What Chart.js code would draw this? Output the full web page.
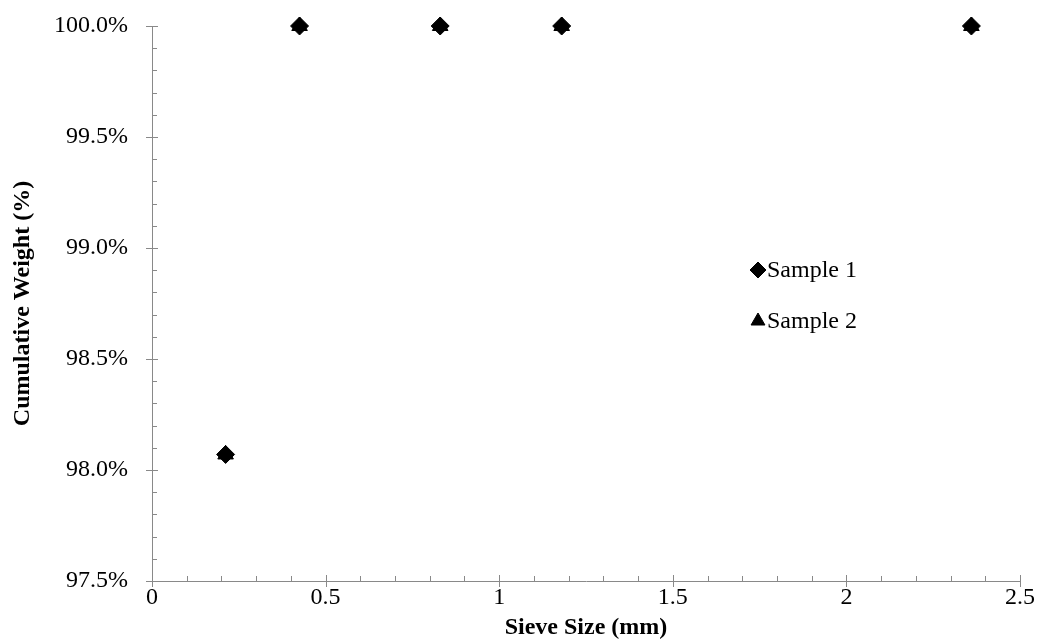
<!DOCTYPE html>
<html>
<head>
<meta charset="utf-8">
<script src="https://cdn.jsdelivr.net/npm/chart.js@4"></script>
<style>
  html, body { margin: 0; padding: 0; background: #fff; }
  #wrap { width: 1042px; height: 642px; position: relative; }
</style>
</head>
<body>
<div id="wrap"><canvas id="sieveChart" width="1042" height="642"></canvas></div>
<script>
// sieve sizes (mm) and cumulative weight passing (%)
const sieveSizes = [0.212, 0.425, 0.83, 1.18, 2.36];
const sample1 = [98.07, 100, 100, 100, 100];
const sample2 = [98.07, 100, 100, 100, 100];
const seriesNames = ['Sample 1', 'Sample 2'];

const axisColor = '#898989';
const font = 'Liberation Serif';

function toPoints(xs, ys) {
    return xs.map((x, i) => ({ x: x, y: ys[i] }));
}

// Excel-style ticks: majors cross the axis, minors point inward
const tickPlugin = {
    id: 'excelTicks',
    afterDraw(chart) {
        const ctx = chart.ctx;
        const xs = chart.scales.x, ys = chart.scales.y;
        const area = chart.chartArea;
        ctx.save();
        ctx.strokeStyle = axisColor;
        ctx.lineWidth = 1;
        ctx.beginPath();
        for (let i = 0; i <= 25; i++) {
            const px = Math.round(xs.getPixelForValue(i / 10)) + 0.5;
            if (i % 5 === 0) {
                ctx.moveTo(px, area.bottom - 6);
                ctx.lineTo(px, area.bottom + 6);
            } else {
                ctx.moveTo(px, area.bottom - 5);
                ctx.lineTo(px, area.bottom);
            }
        }
        for (let i = 0; i <= 25; i++) {
            const py = Math.round(ys.getPixelForValue(97.5 + i / 10)) + 0.5;
            if (i % 5 === 0) {
                ctx.moveTo(area.left - 6, py);
                ctx.lineTo(area.left + 6, py);
            } else {
                ctx.moveTo(area.left, py);
                ctx.lineTo(area.left + 5, py);
            }
        }
        ctx.stroke();

        // legend inside the plot
        const items = [
            { style: 'rectRot', y: 270 },
            { style: 'triangle', y: 321 }
        ];
        ctx.font = '24px "' + font + '"';
        ctx.textBaseline = 'middle';
        items.forEach((it, i) => {
            ctx.fillStyle = '#000';
            ctx.strokeStyle = '#000';
            Chart.helpers.drawPoint(ctx, {
                pointStyle: it.style, radius: 8, borderWidth: 1, rotation: 0
            }, 758, it.y);
            ctx.fillText(seriesNames[i], 767, it.y + 1);
        });
        ctx.restore();
    }
};

const ctx = document.getElementById('sieveChart').getContext('2d');
new Chart(ctx, {
    type: 'scatter',
    data: {
        datasets: [
            {
                label: seriesNames[1],
                data: toPoints(sieveSizes, sample2),
                pointStyle: 'triangle',
                pointRadius: 9,
                backgroundColor: '#000',
                borderColor: '#000',
                clip: false
            },
            {
                label: seriesNames[0],
                data: toPoints(sieveSizes, sample1),
                pointStyle: 'rectRot',
                pointRadius: 9,
                backgroundColor: '#000',
                borderColor: '#000',
                clip: false
            }
        ]
    },
    options: {
        responsive: false,
        animation: false,
        layout: { padding: { top: 26, right: 22, left: 0, bottom: 0 } },
        plugins: {
            legend: { display: false },
            tooltip: { enabled: false }
        },
        scales: {
            x: {
                type: 'linear',
                min: 0,
                max: 2.5,
                afterFit: s => { s.height = 61; s.paddingLeft = 0; s.paddingRight = 0; },
                border: { color: axisColor, width: 1 },
                grid: { display: false, drawTicks: false },
                ticks: {
                    stepSize: 0.5,
                    padding: 2,
                    color: '#000',
                    font: { family: font, size: 24 },
                    callback: v => String(v)
                },
                title: {
                    display: true,
                    text: 'Sieve Size (mm)',
                    color: '#000',
                    padding: { top: 0, bottom: 0 },
                    font: { family: font, size: 24, weight: 'bold' }
                }
            },
            y: {
                min: 97.5,
                max: 100,
                afterFit: s => { s.width = 152; s.paddingTop = 0; s.paddingBottom = 0; },
                border: { color: axisColor, width: 1 },
                grid: { display: false, drawTicks: false },
                ticks: {
                    stepSize: 0.5,
                    padding: 24,
                    color: '#000',
                    font: { family: font, size: 24 },
                    callback: v => v.toFixed(1) + '%'
                },
                title: {
                    display: true,
                    text: 'Cumulative Weight (%)',
                    color: '#000',
                    padding: { top: 8, bottom: 0 },
                    font: { family: font, size: 24, weight: 'bold' }
                }
            }
        }
    },
    plugins: [tickPlugin]
});
</script>
</body>
</html>
